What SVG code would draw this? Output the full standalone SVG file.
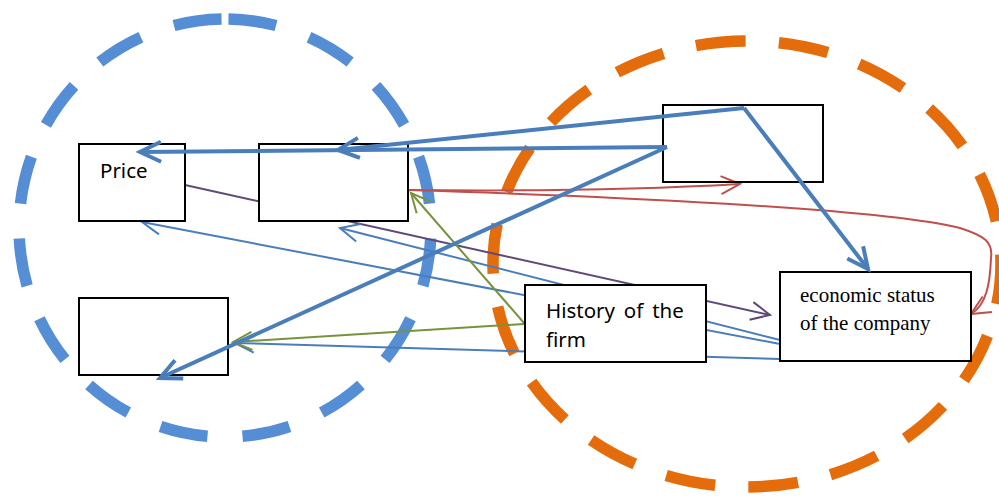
<svg xmlns="http://www.w3.org/2000/svg" width="999" height="497" viewBox="0 0 999 497">
  <style>
    .box { fill: #ffffff; stroke: #000000; stroke-width: 2; }
    .hollow { fill: none; stroke: #000000; stroke-width: 2; }
    .zone { fill: none; stroke-width: 11.5; }
    .thin { fill: none; stroke-width: 2; }
    .thick { fill: none; stroke-width: 4; stroke: #4a7ebb; marker-end: url(#arrowThick); }
    .sans { font-family: "Noto Sans", "Open Sans", "Liberation Sans", sans-serif; font-size: 20.5px; fill: #000000; }
    .serif { font-family: "Liberation Serif", "DejaVu Serif", serif; font-size: 21px; fill: #000000; }
  </style>
  <defs>
    <marker id="arrowBlue" markerUnits="userSpaceOnUse" orient="auto" refX="0" refY="0" markerWidth="40" markerHeight="40" viewBox="-25 -20 40 40" overflow="visible">
      <path d="M-19,-9 L0,0 L-19,9" fill="none" stroke="#4a7ebb" stroke-width="2"/>
    </marker>
    <marker id="arrowPurple" markerUnits="userSpaceOnUse" orient="auto" refX="0" refY="0" markerWidth="40" markerHeight="40" viewBox="-25 -20 40 40" overflow="visible">
      <path d="M-19,-9 L0,0 L-19,9" fill="none" stroke="#5f497a" stroke-width="2"/>
    </marker>
    <marker id="arrowGreen" markerUnits="userSpaceOnUse" orient="auto" refX="0" refY="0" markerWidth="40" markerHeight="40" viewBox="-25 -20 40 40" overflow="visible">
      <path d="M-19,-9 L0,0 L-19,9" fill="none" stroke="#77933c" stroke-width="2"/>
    </marker>
    <marker id="arrowRed" markerUnits="userSpaceOnUse" orient="auto" refX="0" refY="0" markerWidth="40" markerHeight="40" viewBox="-25 -20 40 40" overflow="visible">
      <path d="M-19,-9 L0,0 L-19,9" fill="none" stroke="#c0504d" stroke-width="2"/>
    </marker>
    <marker id="arrowThick" markerUnits="userSpaceOnUse" orient="auto" refX="0" refY="0" markerWidth="50" markerHeight="50" viewBox="-30 -25 50 50" overflow="visible">
      <path d="M-21,-10 L0,0 L-21,10" fill="none" stroke="#4a7ebb" stroke-width="4"/>
    </marker>
  </defs>

  <!-- dashed grouping ellipses -->
  <g id="groups">
    <path id="group-left" class="zone" stroke="#558ed5" pathLength="1300" stroke-dasharray="48 35" stroke-dashoffset="79.5"
          d="M225,19 A206,209 0 0 1 225,437 A206,209 0 0 1 225,19 Z"/>
    <path id="group-right" class="zone" stroke="#e46c0a" pathLength="1500" stroke-dasharray="50 33.33" stroke-dashoffset="51.33"
          d="M747,41 A254,223 0 0 1 747,487 A254,223 0 0 1 747,41 Z"/>
  </g>

  <!-- thin connectors, drawn beneath the boxes -->
  <g id="connectors">
    <path class="thin" stroke="#5f497a" marker-end="url(#arrowPurple)" d="M185,185 L770,315"/>
    <path class="thin" stroke="#4a7ebb" marker-end="url(#arrowBlue)" d="M780,340 L340,228"/>
    <path class="thin" stroke="#4a7ebb" marker-end="url(#arrowBlue)" d="M780,344 L142,222"/>
    <path class="thin" stroke="#4a7ebb" marker-end="url(#arrowBlue)" d="M780,359 L235,343"/>
    <path class="thin" stroke="#c0504d" marker-end="url(#arrowRed)" d="M408,190 Q600,192 740,184"/>
    <path class="thin" stroke="#c0504d" marker-end="url(#arrowRed)" d="M408,190 C600,196 880,208 960,228 C985,236 993,242 991,258 C990,285 986,305 971,314"/>
    <path class="thin" stroke="#77933c" marker-end="url(#arrowGreen)" d="M524,323 L411,193"/>
    <path class="thin" stroke="#77933c" marker-end="url(#arrowGreen)" d="M524,324 L233,342"/>
  </g>

  <!-- nodes -->
  <g id="node-price">
    <rect class="box" x="79" y="144" width="106" height="77"/>
    <text class="sans" x="100" y="178">Price</text>
  </g>
  <g id="node-b">
    <rect class="box" x="259" y="144" width="149" height="77"/>
  </g>
  <g id="node-c">
    <rect class="box" x="79" y="298" width="149" height="77"/>
  </g>
  <g id="node-d">
    <rect class="hollow" x="663" y="105" width="160" height="77"/>
  </g>
  <g id="node-history">
    <rect class="box" x="525" y="285" width="181" height="77"/>
    <text class="sans" x="546" y="318" word-spacing="3.5">History of the</text>
    <text class="sans" x="546" y="347">firm</text>
  </g>
  <g id="node-economic">
    <rect class="box" x="780" y="272" width="191" height="89"/>
    <text class="serif" x="800" y="302">economic status</text>
    <text class="serif" x="800" y="330">of the company</text>
  </g>

  <!-- heavy connectors, drawn over the boxes -->
  <g id="connectors-heavy">
    <path class="thick" d="M744,108 L338,150"/>
    <path class="thick" d="M667,147 L140,152"/>
    <path class="thick" d="M667,147 L160,378"/>
    <path class="thick" d="M744,108 L868,269"/>
  </g>
</svg>
